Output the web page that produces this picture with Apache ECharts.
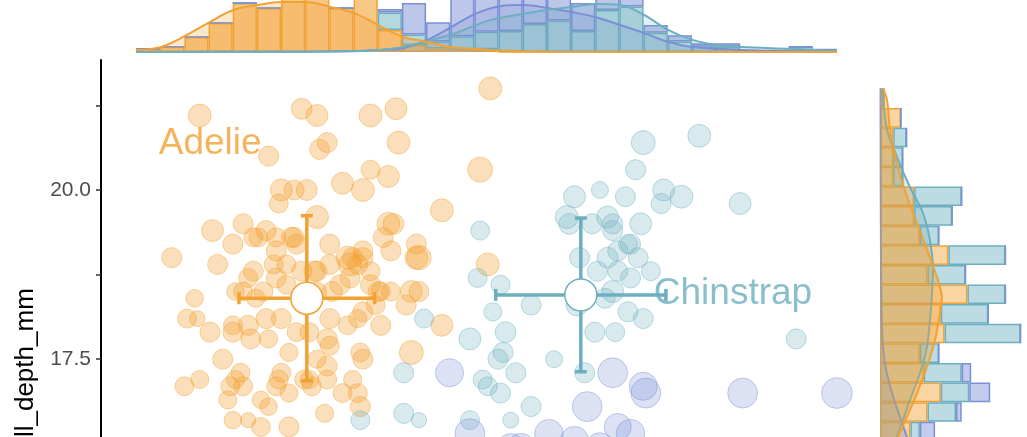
<!DOCTYPE html>
<html><head><meta charset="utf-8">
<script src="https://cdn.jsdelivr.net/npm/echarts@6/dist/echarts.min.js"></script>
<style>html,body{margin:0;padding:0;background:#fff}#c{width:1027px;height:437px}</style>
</head><body><div id="c"></div>
<script>
// ---------- data ----------
const species = ['Adelie', 'Chinstrap', 'Gentoo'];
// points: [bill_length_mm, bill_depth_mm, body_mass_g]
const adeliePts = [
[34.6,21.1,4300],[38.6,21.2,3900],[39.2,21.1,4100],[41.3,21.1,4300],[42.3,21.2,4100],
[37.3,20.5,3750],[39.3,20.6,3750],[39.6,20.7,3750],[42.4,20.7,4300],[41.3,20.3,3550],
[42.0,20.2,4100],[40.2,20.1,4100],[41.0,20.0,4300],[37.8,20.0,4100],[38.3,20.0,3750],
[38.8,20.0,3900],[37.7,19.8,3550],[39.2,19.6,4300],[35.1,19.4,4100],[36.3,19.5,3750],
[37.2,19.4,3750],[36.7,19.3,3550],[37.6,19.3,3550],[35.9,19.2,3750],[38.3,19.3,3750],
[39.7,19.2,3750],[42.0,19.5,4300],[42.2,19.5,3900],[44.1,19.7,4300],[45.6,20.3,4700],
[46.0,21.5,4300],[43.1,19.2,3750],[43.1,19.0,4300],[33.5,19.0,3750],[35.3,18.9,3750],
[37.6,19.1,3750],[38.4,19.2,3750],[40.4,19.0,4300],[41.0,19.1,3750],[40.8,18.9,3750],
[42.1,19.1,3750],[36.7,18.8,3750],[37.5,18.9,3550],[37.6,18.7,3750],[38.0,18.6,3550],
[37.1,18.5,3550],[36.8,18.4,3400],[36.0,18.5,3300],[34.4,18.4,3300],[39.2,18.8,3750],
[39.7,18.9,3750],[40.5,18.9,4300],[41.0,19.0,3750],[41.3,18.6,3750],[41.6,18.5,3750],
[42.1,18.5,3550],[41.5,18.3,3550],[41.7,18.0,3750],[41.0,18.2,3750],[40.4,18.0,3550],
[39.7,18.1,3750],[39.6,17.8,3750],[39.7,17.7,3550],[38.9,17.9,3550],[38.4,17.9,3550],
[37.8,18.1,3750],[37.2,18.1,3750],[36.5,18.0,3750],[35.9,17.9,3750],[36.6,17.8,3750],
[37.3,17.8,3400],[35.0,17.9,3750],[34.1,18.1,3550],[34.5,18.1,3000],[35.5,17.5,3750],
[38.1,17.6,3400],[39.2,17.5,3400],[39.6,17.4,3750],[41.0,17.5,3750],[36.2,17.3,3550],
[35.8,17.1,3550],[36.3,17.1,3550],[35.7,16.9,3400],[34.0,17.1,3550],[34.6,17.2,3400],
[37.8,17.3,3550],[37.6,17.1,3550],[38.1,17.0,3400],[38.7,17.2,3550],[39.0,17.1,3550],
[39.6,17.2,3550],[40.2,17.0,3550],[40.6,17.2,3400],[40.8,17.0,3550],[40.9,16.8,3750],
[37.3,16.8,3300],[37.0,16.9,3300],[35.9,16.6,3300],[36.5,16.6,2900],[37.0,16.5,3550],
[38.1,16.5,3750],[39.5,16.7,3400],[43.2,19.0,4600],[42.9,18.5,4100],[43.2,18.5,3750],
[42.7,18.3,3750],[44.1,18.0,4100],[42.9,17.6,4500],[45.9,18.9,4300],[38.0,18.9,3550],
[40.5,18.7,3750],[41.3,18.8,3550],[36.5,18.7,3550],[36.3,18.5,3550],[39.2,18.5,3550],
[39.8,18.5,3750],[41.8,19.3,3750],[39.1,18.8,3900],[40.6,19.0,3750],[41.7,18.5,3550],
[40.1,18.6,3750],[38.6,18.8,3750],[35.9,18.0,3550],[36.0,17.2,3400],[37.7,17.2,3550],
[38.9,17.2,3400],[40.9,17.6,3550],[36.9,19.3,3550],[38.2,19.3,3750],[40.8,18.1,3400]];
const chinstrapPts = [
[45.6,19.4,3550],[52.0,20.7,4500],[54.2,20.8,4300],[51.7,20.3,3750],[52.8,20.0,4100],
[53.5,19.9,4300],[52.7,19.8,3750],[55.8,19.8,4100],[49.3,19.9,4100],[50.3,20.0,3200],
[51.3,19.9,3750],[49.0,19.6,4300],[49.1,19.5,3900],[50.6,19.6,4100],[50.8,19.5,3750],
[50.0,19.5,3750],[50.8,19.4,3750],[51.9,19.5,4100],[51.5,19.2,3750],[49.5,19.0,3750],
[50.6,19.0,3900],[51.0,19.1,3750],[51.4,19.2,3550],[51.8,19.0,3750],[52.3,18.8,3550],
[50.2,18.8,3750],[51.0,18.8,3750],[50.8,18.5,4100],[50.5,18.4,3750],[49.4,18.3,4100],
[51.4,18.2,3750],[52.0,18.1,3750],[50.1,17.9,3750],[50.9,17.9,3550],[47.6,18.3,3750],
[58.0,17.8,3750],[45.5,18.7,3550],[46.4,18.6,3550],[43.4,18.1,3550],[45.2,17.8,4100],
[46.6,17.9,3900],[46.5,17.6,3750],[46.3,17.5,3750],[47.0,17.3,3750],[48.5,17.5,3200],
[49.7,17.3,3750],[45.7,17.2,3550],[46.4,17.0,3750],[45.9,17.1,3550],[47.6,16.8,3750],
[45.2,16.6,3550],[46.8,16.6,3000],[42.6,17.3,3750],[42.6,16.7,3750],[43.2,16.6,2900],
[40.9,16.6,3550],[46.1,18.2,3400],[51.5,18.7,3750]];
const gentooPts = [
[44.4,17.3,5400],[50.8,17.3,5800],[52.1,17.0,5800],[52.0,17.1,5400],[49.8,16.8,5800],
[55.9,17.0,5800],[59.6,17.0,6000],[51.0,16.5,5150],[45.2,16.4,5800],[48.3,16.4,5500],
[51.5,16.4,5500],[49.3,16.3,5400],[46.8,16.2,5200],[47.2,16.2,5300],[50.3,16.2,5600],[48.7,16.1,5300]];

// summary: medians and sd
const medLen = [38.8, 49.55, 47.3];
const medDep = [18.4, 18.45, 15.0];
const sdLen  = [2.66, 3.34, 3.08];
const sdDep  = [1.22, 1.135, 0.98];
// label anchor positions (data units)
const labelPos = [[35.01, 20.68], [55.52, 18.46], [57.5, 14.2]];

// axis
const yTickLabels = [15, 17.5, 20];
const yTicks = [13.75, 15, 16.25, 17.5, 18.75, 20, 21.25];
const lenRange = [32.1, 59.6];
const depRange = [13.1, 21.5];
const nBins = 29;

// top marginal: stacked histogram densities per bill_length bin (29 bins)
const adelieLenHist   = [.009,.015,.043,.083,.14,.126,.16,.17,.126,.16,.063,.02,.01,.005,.008,0,0,0,0,0,0,0,0,0,0,0,0,0,0];
const chinstrapLenHist= [0,0,0,0,0,0,0,0,0,.015,.05,.03,.02,.04,.05,.06,.08,.09,.06,.12,.13,.055,.03,.015,.015,0,0,.015,0];
const gentooLenHist   = [0,0,0,0,0,0,0,0,0,.01,.01,.09,.055,.12,.13,.15,.14,.13,.08,.07,.05,.022,.018,.01,.01,.006,.006,0,.009];
// top marginal density curves [bill_length, density]
const adelieLenDens = [[32.1,.006],[33.05,.014],[33.95,.043],[34.93,.083],[35.91,.12],[36.85,.134],[37.8,.143],[38.74,.143],[39.72,.129],[40.66,.111],[41.6,.077],[42.58,.043],[43.52,.029],[44.42,.014],[45.4,.009],[46.38,.004],[48.35,.001],[52,0],[59.6,0]];
const chinstrapLenDens = [[32.1,0],[38,.001],[40.9,.003],[41.68,.006],[42.58,.014],[44.42,.049],[45.99,.091],[47.29,.109],[48.23,.12],[49.21,.129],[50.11,.137],[51.09,.134],[52.03,.106],[52.97,.063],[53.95,.034],[54.89,.02],[55.87,.014],[57.76,.009],[59.6,.003]];
const gentooLenDens = [[32.1,0],[38,.001],[40.9,.003],[41.68,.006],[42.58,.011],[43.52,.034],[44.42,.069],[45.4,.109],[46.38,.131],[47.29,.134],[48.23,.126],[49.21,.114],[50.11,.1],[51.09,.077],[52.03,.054],[52.97,.029],[53.95,.014],[55.87,.006],[57.76,.003],[59.6,.001]];

// right marginal: stacked histogram densities per bill_depth bin (29 bins, bottom->top)
const adelieDepHist   = [0,0,0,0,0,.02,.04,.07,.1,.12,.14,.16,.25,.32,.23,.21,.34,.32,.46,.25,.36,.21,.18,.18,.07,.07,.07,.11,.02];
const chinstrapDepHist= [0,0,0,0,0,0,0,0,0,0,.02,.05,.15,.15,.2,.1,.4,.25,.2,.2,.3,.1,.2,.25,.05,.05,.07,0,0];
const gentooDepHist   = [.1,.25,.35,.5,.55,.6,.6,.55,.45,.35,.2,.08,.03,.11,.05,0,0,0,0,0,0,0,0,0,0,0,0,0,0];
// right marginal density curves [density, bill_depth]
const adelieDepDens = [[0,13.1],[.005,14.8],[.02,15.4],[.053,16.0],[.095,16.35],[.142,16.65],[.195,17.0],[.247,17.39],[.289,17.78],[.316,18.18],[.326,18.42],[.305,18.67],[.253,19.07],[.195,19.51],[.142,19.9],[.089,20.4],[.053,20.89],[.037,21.33],[.016,21.5]];
const chinstrapDepDens = [[0,13.6],[.005,14.7],[.02,15.4],[.05,16.0],[.089,16.35],[.116,16.56],[.158,16.9],[.211,17.3],[.247,17.68],[.263,18.08],[.274,18.48],[.279,18.86],[.263,19.26],[.226,19.66],[.158,20.04],[.089,20.49],[.037,20.89],[.011,21.5]];
const gentooDepDens = [[.32,13.1],[.37,13.35],[.39,14.24],[.32,15.1],[.21,15.86],[.142,16.35],[.105,16.65],[.063,17.0],[.026,17.44],[.011,17.93],[.005,19.1],[.003,21.5]];

// ---------- styling ----------
const COLORS = ['#F2A133', '#6CAFBF', '#7B8FD6'];
const FONT = "'Liberation Sans', Arial, Helvetica, sans-serif";
function rgba(hex, a) {
  const n = parseInt(hex.slice(1), 16);
  return 'rgba(' + ((n >> 16) & 255) + ',' + ((n >> 8) & 255) + ',' + (n & 255) + ',' + a + ')';
}
const massMin = 2700, massMax = 6300;
function sizeOf(v) {
  const t = (Math.sqrt(v[2]) - Math.sqrt(massMin)) / (Math.sqrt(massMax) - Math.sqrt(massMin));
  return 14 + t * 18;
}
const PT_ALPHA = [0.42, 0.33, 0.33];
const TOP_BAR_ALPHA = [0.6, 0.5, 0.5];
const DENS_ALPHA = [0.35, 0.28, 0.3];

// bins
const lenBw = (lenRange[1] - lenRange[0]) / nBins;
const depBw = (depRange[1] - depRange[0]) / nBins;
const lenBins = [], depBins = [];
for (let k = 0; k < nBins; k++) {
  lenBins.push((lenRange[0] + k * lenBw).toFixed(2));
  depBins.push((depRange[0] + k * depBw).toFixed(2));
}

// layout
const X_MIN = 30.725, X_MAX = 60.975, Y_MIN = 12.68, Y_MAX = 21.92;
const MAIN = {left: 101, top: 60, width: 771, height: 625.5};
const pxPerX = MAIN.width / (X_MAX - X_MIN);
const pxPerY = MAIN.height / (Y_MAX - Y_MIN);
const TOP_BASE = 52, TOP_MAX = 0.3, TOP_SCALE = 350;
const RIGHT_LEFT = 880, RIGHT_MAX = 1.0, RIGHT_SCALE = 190;

const topH = TOP_MAX * TOP_SCALE;
const grids = [
  MAIN,
  {left: MAIN.left + (lenRange[0] - X_MIN) * pxPerX, top: TOP_BASE - topH, width: (lenRange[1] - lenRange[0]) * pxPerX, height: topH},
  {left: MAIN.left, top: TOP_BASE - topH, width: MAIN.width, height: topH},
  {left: RIGHT_LEFT, top: MAIN.top + (Y_MAX - depRange[1]) * pxPerY, width: RIGHT_MAX * RIGHT_SCALE, height: (depRange[1] - depRange[0]) * pxPerY},
  {left: RIGHT_LEFT, top: MAIN.top, width: RIGHT_MAX * RIGHT_SCALE, height: MAIN.height}
].map(g => Object.assign({containLabel: false, outerBoundsMode: 'none'}, g));

const hidden = {show: false};
const xAxes = [
  {gridIndex: 0, type: 'value', min: X_MIN, max: X_MAX, name: 'bill_length_mm', nameLocation: 'middle', nameGap: 35,
   axisLine: {show: true, lineStyle: {color: '#000', width: 2}}, splitLine: hidden,
   axisTick: {show: true, length: 5, lineStyle: {color: '#333'}}, axisLabel: {color: '#4d4d4d', fontSize: 21, fontFamily: FONT}},
  {gridIndex: 1, type: 'category', data: lenBins, show: false, boundaryGap: true},
  {gridIndex: 2, type: 'value', min: X_MIN, max: X_MAX, show: false},
  {gridIndex: 3, type: 'value', min: 0, max: RIGHT_MAX, show: false},
  {gridIndex: 4, type: 'value', min: 0, max: RIGHT_MAX, show: false}
];
const yAxes = [
  {gridIndex: 0, type: 'value', min: Y_MIN, max: Y_MAX, name: 'bill_depth_mm', nameLocation: 'middle', nameRotate: 90, nameGap: 61,
   nameTextStyle: {color: '#000', fontSize: 26, fontFamily: FONT},
   axisLine: {show: true, lineStyle: {color: '#000', width: 2}}, splitLine: hidden,
   axisTick: {show: true, customValues: yTicks, length: 5, lineStyle: {color: '#333', width: 1.5}},
   axisLabel: {customValues: yTickLabels, formatter: v => Number(v).toFixed(1), color: '#4d4d4d', fontSize: 21, margin: 10, fontFamily: FONT}},
  {gridIndex: 1, type: 'value', min: 0, max: TOP_MAX, show: false},
  {gridIndex: 2, type: 'value', min: 0, max: TOP_MAX, show: false},
  {gridIndex: 3, type: 'category', data: depBins, show: false, boundaryGap: true},
  {gridIndex: 4, type: 'value', min: Y_MIN, max: Y_MAX, show: false}
];

const series = [];
const lenHists = [adelieLenHist, chinstrapLenHist, gentooLenHist];
const depHists = [adelieDepHist, chinstrapDepHist, gentooDepHist];
const lenDens = [adelieLenDens, chinstrapLenDens, gentooLenDens];
const depDens = [adelieDepDens, chinstrapDepDens, gentooDepDens];
const pts = [adeliePts, chinstrapPts, gentooPts];
const densOrder = [2, 1, 0]; // Adelie density drawn last (on top)

function bbox(points) {
  let x0 = Infinity, y0 = Infinity, x1 = -Infinity, y1 = -Infinity;
  points.forEach(p => { x0 = Math.min(x0, p[0]); y0 = Math.min(y0, p[1]); x1 = Math.max(x1, p[0]); y1 = Math.max(y1, p[1]); });
  return [[x0, y0], [x1, y1]];
}

// top histograms (stacked)
species.forEach((s, i) => series.push({
  type: 'bar', name: s + ' len hist', xAxisIndex: 1, yAxisIndex: 1, stack: 'lenH', data: lenHists[i],
  barCategoryGap: '0%', itemStyle: {color: rgba(COLORS[i], TOP_BAR_ALPHA[i]), borderColor: COLORS[i], borderWidth: 1.5}, z: 2
}));
// top densities
densOrder.forEach(i => series.push({
  type: 'line', name: species[i] + ' len dens', xAxisIndex: 2, yAxisIndex: 2, data: lenDens[i], smooth: 0.35,
  showSymbol: false, symbol: 'none', lineStyle: {color: COLORS[i], width: 2},
  areaStyle: {color: rgba(COLORS[i], DENS_ALPHA[i])}, z: 3
}));
// right histograms (stacked, horizontal)
species.forEach((s, i) => series.push({
  type: 'bar', name: s + ' dep hist', xAxisIndex: 3, yAxisIndex: 3, stack: 'depH', data: depHists[i],
  barCategoryGap: '0%', itemStyle: {color: rgba(COLORS[i], 0.45), borderColor: COLORS[i], borderWidth: 1.5}, z: 2
}));
// right densities (vertical curves)
densOrder.forEach(i => series.push({
  type: 'custom', name: species[i] + ' dep dens', xAxisIndex: 4, yAxisIndex: 4, data: depDens[i], z: 3,
  renderItem: function (params, api) {
    if (params.dataIndex !== 0) return null;
    const curve = depDens[i];
    const line = curve.map(p => api.coord(p));
    const poly = [api.coord([0, curve[0][1]])].concat(line, [api.coord([0, curve[curve.length - 1][1]])]);
    const box = bbox(poly);
    return {type: 'group', children: [
      {type: 'polygon', shape: {points: poly, smooth: 0.3, smoothConstraint: box}, style: {fill: rgba(COLORS[i], DENS_ALPHA[i]), stroke: null}},
      {type: 'polyline', shape: {points: line, smooth: 0.3, smoothConstraint: box}, style: {stroke: COLORS[i], lineWidth: 2, fill: null}}
    ]};
  }
}));
// scatter points
species.forEach((s, i) => series.push({
  type: 'scatter', name: s, xAxisIndex: 0, yAxisIndex: 0, data: pts[i], symbolSize: sizeOf,
  itemStyle: {color: rgba(COLORS[i], PT_ALPHA[i]), borderColor: rgba(COLORS[i], 0.55), borderWidth: 1}, z: 4
}));
// error bars
const summary = species.map((s, i) => [medLen[i], medDep[i], sdLen[i], sdDep[i]]);
series.push({
  type: 'custom', name: 'sd', xAxisIndex: 0, yAxisIndex: 0, data: summary, z: 6,
  renderItem: function (params, api) {
    const L = api.value(0), D = api.value(1), sL = api.value(2), sD = api.value(3);
    const l = api.coord([L - sL, D]), r = api.coord([L + sL, D]);
    const t = api.coord([L, D + sD]), b = api.coord([L, D - sD]);
    const cap = 6;
    const st = {stroke: COLORS[params.dataIndex], lineWidth: 3.5, fill: null};
    const seg = (x1, y1, x2, y2) => ({type: 'line', shape: {x1, y1, x2, y2}, style: st});
    return {type: 'group', children: [
      seg(l[0], l[1], r[0], r[1]), seg(t[0], t[1], b[0], b[1]),
      seg(l[0], l[1] - cap, l[0], l[1] + cap), seg(r[0], r[1] - cap, r[0], r[1] + cap),
      seg(t[0] - cap, t[1], t[0] + cap, t[1]), seg(b[0] - cap, b[1], b[0] + cap, b[1])
    ]};
  }
});
// median points
series.push({
  type: 'scatter', name: 'median', xAxisIndex: 0, yAxisIndex: 0, z: 7, symbolSize: 32,
  data: species.map((s, i) => ({value: [medLen[i], medDep[i]], itemStyle: {color: '#fff', borderColor: COLORS[i], borderWidth: 1.5, opacity: 1}}))
});
// species labels
series.push({
  type: 'scatter', name: 'labels', xAxisIndex: 0, yAxisIndex: 0, z: 8, symbolSize: 1,
  itemStyle: {color: 'rgba(0,0,0,0)'},
  data: species.map((s, i) => ({value: labelPos[i], name: s,
    label: {show: true, position: 'inside', formatter: s, color: COLORS[i], fontSize: 37, fontFamily: FONT}}))
});

const chart = echarts.init(document.getElementById('c'), null, {renderer: 'canvas'});
chart.setOption({
  animation: false,
  backgroundColor: '#fff',
  grid: grids,
  xAxis: xAxes,
  yAxis: yAxes,
  series: series
});
</script></body></html>
